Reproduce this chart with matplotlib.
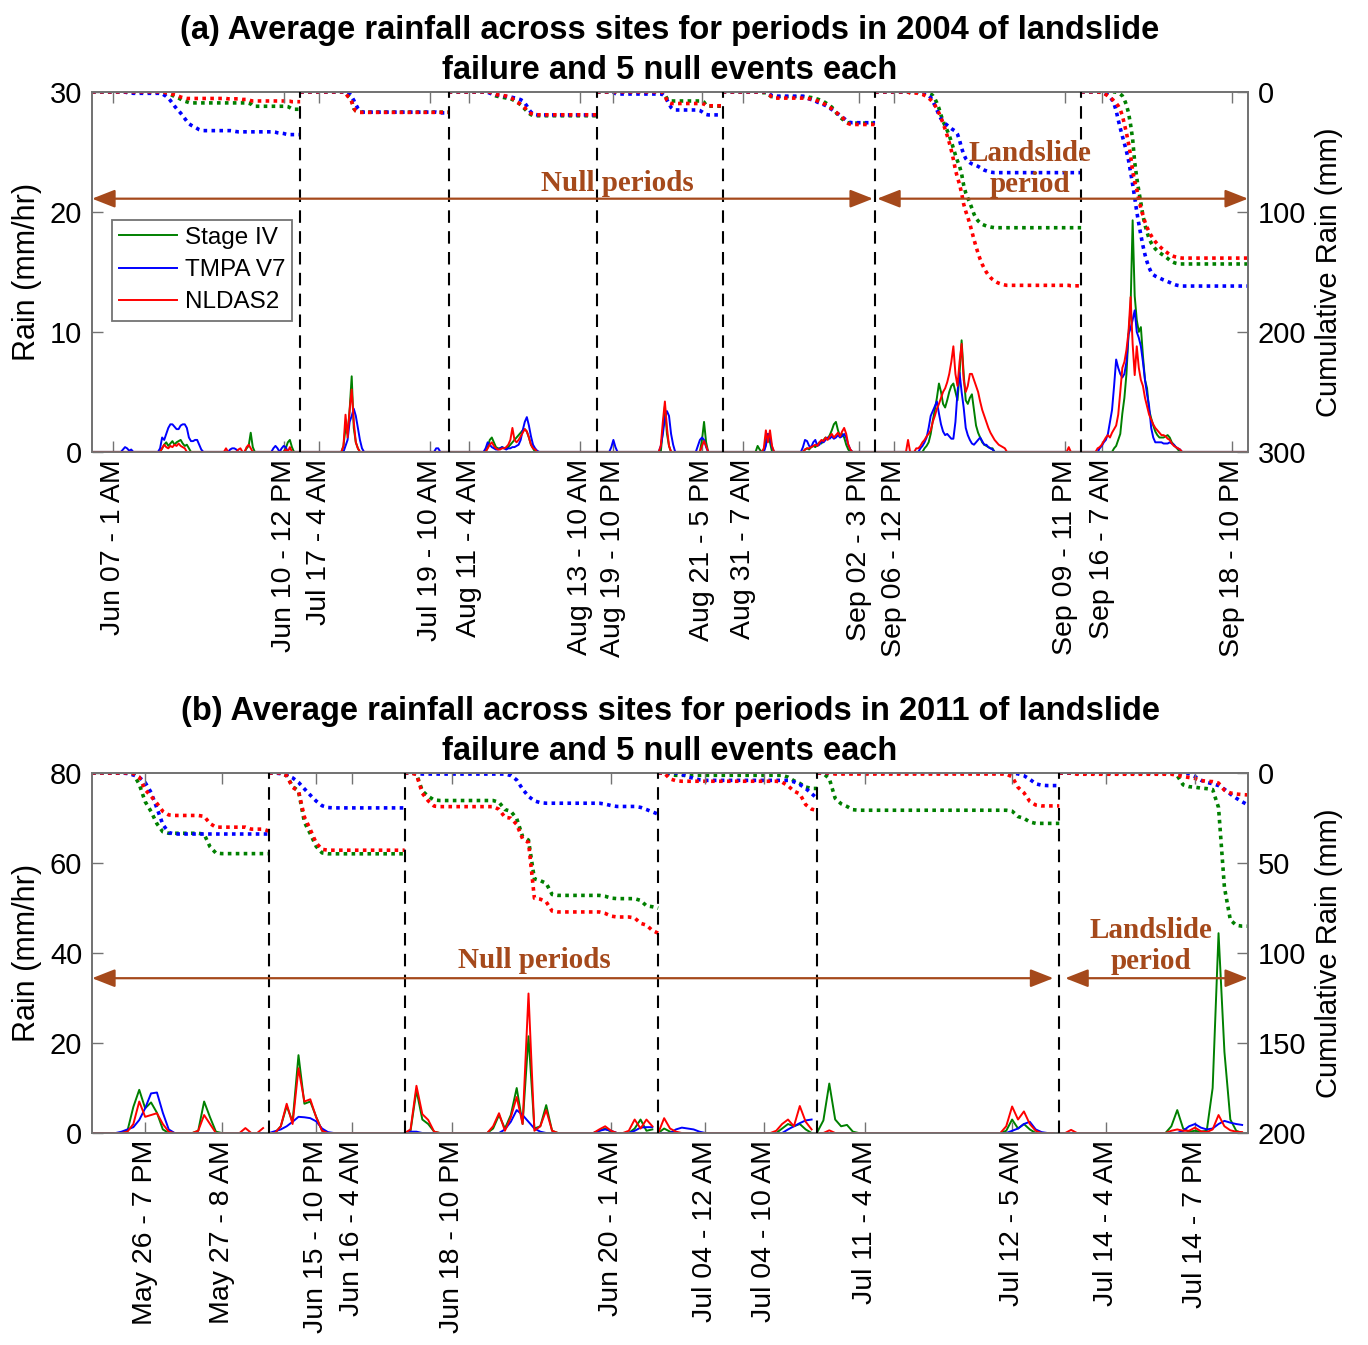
import matplotlib
matplotlib.use("Agg")
import matplotlib.pyplot as plt
import numpy as np

plt.rcParams["font.family"] = ["Liberation Sans", "DejaVu Sans"]

# ---------------- panel (a): 2004 ----------------
# hours in each plotted window (5 null periods, then 2 landslide windows)
A_SEG_HOURS = [101, 72, 72, 61, 74, 100, 81]
A_N_NULL = 5
A_TICK_HOURS = [10, 93, 110, 164, 183, 237, 253, 296, 316, 372, 389, 472, 490, 553]
A_TICK_LABELS = ["Jun 07 - 1 AM", "Jun 10 - 12 PM", "Jul 17 - 4 AM", "Jul 19 - 10 AM",
                 "Aug 11 - 4 AM", "Aug 13 - 10 AM", "Aug 19 - 10 PM", "Aug 21 - 5 PM",
                 "Aug 31 - 7 AM", "Sep 02 - 3 PM", "Sep 06 - 12 PM", "Sep 09 - 11 PM",
                 "Sep 16 - 7 AM", "Sep 18 - 10 PM"]

# hourly rain (mm/hr) as (first hour, values) bursts; other hours are dry
A_STAGE4 = [
    (34, [0.3, 0.6, 0.8, 0.5, 0.7, 0.9, 0.6, 0.8, 0.9, 1.0, 0.7, 0.5, 0.6, 0.3]),
    (75, [0.3, 0.5, 1.6, 0.4]),
    (94, [0.3, 0.8, 1.0, 0.4]),
    (122, [0.5, 2.0, 1.5, 3.5, 6.3, 2.0, 0.8, 0.3]),
    (192, [0.4, 1.0, 1.2, 0.8, 0.4, 0.3, 0.3, 0.4, 0.3, 0.3, 0.4, 0.6, 0.8, 1.0, 1.2, 1.4,
           1.6, 1.8, 1.9, 1.7, 1.2, 0.6, 0.3]),
    (277, [1.8, 3.8, 1.5, 0.5]),
    (296, [1.0, 2.5, 0.8]),
    (323, [0.5, 0.2, 0.0, 0.0, 1.0, 1.5, 0.8]),
    (346, [0.2, 0.3, 0.2, 0.4, 0.5, 0.4, 0.6, 0.8, 0.7, 1.0, 1.2, 1.1, 1.4, 1.8, 2.3, 2.5,
           1.8, 1.3, 1.5, 1.2, 0.6, 0.2]),
    (404, [0.3, 0.5, 0.8, 1.5, 2.6, 3.5, 4.5, 5.7, 5.0, 4.0, 3.7, 4.3, 5.0, 5.5, 5.7, 5.0,
           4.3, 6.5, 9.3, 6.5, 4.3, 4.0, 4.5, 4.8, 3.5, 2.2, 1.6, 1.2, 0.8, 0.6, 0.5, 0.4,
           0.3, 0.3]),
    (496, [0.3, 0.5, 1.0, 1.5, 3.2, 4.5, 6.5, 9.8, 12.0, 19.3, 13.0, 11.0, 10.0, 10.4, 8.0,
           6.0, 5.3, 3.5, 2.8, 2.2, 1.7, 1.4, 1.2, 1.2, 1.2, 1.3, 1.4, 1.2, 0.8, 0.6, 0.4,
           0.2]),
]
A_TMPA = [
    (15, [0.2, 0.4, 0.3, 0.1, 0.2]),
    (33, [0.3, 1.2, 1.0, 1.5, 2.0, 2.3, 2.3, 2.1, 1.9, 1.9, 2.2, 2.3, 2.3, 2.0, 1.2, 0.9,
          0.9, 1.0, 1.0, 0.6, 0.2]),
    (67, [0.2, 0.3, 0.3, 0.2]),
    (88, [0.3, 0.5, 0.3, 0.0, 0.3, 0.5, 0.4]),
    (123, [0.5, 1.0, 2.5, 3.0, 3.6, 3.0, 2.0, 1.0, 0.3]),
    (167, [0.3, 0.3]),
    (191, [0.3, 0.8, 0.6, 0.4, 0.3, 0.2, 0.2, 0.3, 0.4, 0.3, 0.2, 0.3, 0.3, 0.4, 0.4, 0.5,
           0.6, 1.0, 1.8, 2.5, 2.9, 2.2, 1.3, 0.6, 0.3, 0.1]),
    (252, [0.4, 1.0, 0.4]),
    (276, [0.5, 1.5, 2.8, 3.4, 3.0, 1.5, 0.6]),
    (294, [0.5, 1.0, 1.2, 1.0, 0.4]),
    (327, [0.5, 1.5, 1.2, 0.4]),
    (345, [0.4, 1.0, 0.9, 0.5, 0.4, 0.8, 1.0, 0.5, 0.6, 0.9, 0.8, 1.0, 1.2, 1.1, 1.3, 1.1,
           1.2, 1.4, 1.2, 1.3, 1.5, 1.2, 0.6, 0.2]),
    (402, [0.3, 0.5, 0.8, 1.2, 2.0, 3.0, 3.4, 3.8, 4.2, 3.2, 2.3, 1.7, 1.4, 1.5, 1.3, 1.1,
           1.1, 2.5, 5.0, 6.6, 5.0, 3.7, 2.0, 1.4, 1.0, 0.7, 0.6, 0.8, 1.0, 1.2, 0.9, 0.6,
           0.6, 0.4, 0.3, 0.2]),
    (489, [0.3, 0.5, 0.8, 1.0, 1.5, 2.5, 3.5, 5.5, 7.7, 7.0, 6.5, 6.2, 6.5, 7.5, 9.8, 10.3,
           11.0, 11.8, 10.0, 9.5, 8.8, 7.5, 6.0, 4.8, 3.8, 2.0, 1.2, 0.8, 0.8, 0.8, 0.8, 0.7,
           0.7, 0.7, 0.8, 0.7, 0.6, 0.4, 0.3, 0.2]),
]
A_NLDAS = [
    (34, [0.3, 0.6, 0.4, 0.3, 0.5, 0.4, 0.6, 0.5, 0.7, 0.5, 0.4, 0.3]),
    (65, [0.3]),
    (71, [0.2, 0.3, 0.0, 0.0, 0.4, 0.6, 0.3]),
    (94, [0.2, 0.0, 0.4]),
    (122, [0.5, 3.1, 1.2, 3.5, 5.2, 2.5, 0.8, 0.3]),
    (192, [0.3, 0.6, 0.8, 0.5, 0.3, 0.2, 0.2, 0.3, 0.3, 0.4, 0.6, 1.0, 2.0, 1.0, 0.8, 1.0,
           1.3, 1.6, 1.9, 1.7, 1.2, 0.6, 0.3, 0.2]),
    (276, [0.5, 2.5, 4.2, 2.0, 0.5]),
    (296, [0.5, 0.9, 0.5]),
    (326, [0.3, 1.8, 0.8, 1.8, 0.5]),
    (346, [0.2, 0.3, 0.3, 0.4, 0.5, 0.6, 0.5, 0.8, 1.0, 0.9, 1.2, 1.0, 1.3, 1.5, 1.2, 1.4,
           1.6, 1.3, 1.7, 2.0, 1.5, 0.6, 0.2]),
    (396, [1.0]),
    (400, [0.3, 0.3, 0.5, 0.8, 1.0, 1.3, 1.5, 1.8, 2.5, 3.0, 3.6, 4.0, 4.5, 5.0, 5.3, 5.8,
           6.5, 7.5, 8.8, 6.5, 5.5, 7.5, 9.0, 6.0, 5.0, 5.5, 6.5, 6.5, 6.0, 5.5, 5.0, 4.2,
           3.5, 3.0, 2.5, 2.0, 1.6, 1.3, 1.0, 0.8, 0.6, 0.5, 0.4, 0.3]),
    (474, [0.4]),
    (488, [0.3, 0.4, 0.6, 0.9, 1.2, 1.4, 1.2, 1.6, 1.9, 2.2, 3.1, 5.0, 7.0, 7.5, 8.5, 10.0,
           12.9, 9.0, 6.4, 8.8, 7.0, 6.0, 5.5, 4.5, 3.8, 3.1, 2.7, 2.3, 2.0, 1.8, 1.6, 1.4,
           1.4, 1.3, 1.1, 1.0, 0.7, 0.5, 0.4, 0.3, 0.2]),
]

# ---------------- panel (b): 2011 ----------------
B_SEG_HOURS = [30, 23, 43, 27, 41, 32]
B_N_NULL = 5
B_TICK_HOURS = [9, 22, 38, 44, 61, 88, 104, 114, 131, 156, 172, 187]
B_TICK_LABELS = ["May 26 - 7 PM", "May 27 - 8 AM", "Jun 15 - 10 PM", "Jun 16 - 4 AM",
                 "Jun 18 - 10 PM", "Jun 20 - 1 AM", "Jul 04 - 12 AM", "Jul 04 - 10 AM",
                 "Jul 11 - 4 AM", "Jul 12 - 5 AM", "Jul 14 - 4 AM", "Jul 14 - 7 PM"]

B_STAGE4 = [
    (6, [0.5, 5.8, 9.6, 5.5, 6.8, 4.5, 0.8]),
    (18, [0.5, 7.0, 3.5, 0.3]),
    (32, [1.5, 6.0, 2.5, 17.3, 6.5, 7.0, 3.6, 0.5]),
    (54, [0.5, 9.5, 3.0, 2.0, 0.3]),
    (68, [1.0, 4.0, 1.0, 4.0, 10.0, 2.0, 21.5, 1.0, 1.5, 6.2, 0.5]),
    (86, [0.5, 1.0, 0.3]),
    (92, [1.0, 3.0, 0.5, 0.8]),
    (97, [1.0, 0.3]),
    (117, [1.0, 2.0, 1.5, 2.0, 0.8]),
    (123, [0.3, 2.8, 11.0, 3.0, 1.5, 1.8, 0.3]),
    (155, [0.5, 3.0, 1.0, 2.0, 0.8]),
    (183, [1.5, 5.1, 1.0, 0.3, 0.5, 0.3, 0.5, 10.0, 44.4, 18.0, 3.0, 0.5]),
]
B_TMPA = [
    (5, [0.3, 0.8, 1.3, 2.9, 5.5, 8.8, 9.0, 4.5, 0.8]),
    (31, [0.4, 0.8, 1.5, 2.5, 3.6, 3.5, 3.3, 2.6, 1.0, 0.2]),
    (54, [0.3, 0.3]),
    (70, [0.8, 2.5, 5.1, 4.0, 2.5, 1.0, 0.3]),
    (86, [0.5, 0.8, 0.5]),
    (92, [0.5, 1.2, 1.3, 1.3]),
    (99, [0.8, 1.2, 1.0, 0.8, 0.3]),
    (118, [0.8, 1.5, 2.2, 2.8, 3.0]),
    (156, [0.5, 1.0, 2.0, 2.5, 0.8, 0.2]),
    (185, [0.5, 1.5, 2.0, 1.2, 0.8, 1.0, 2.0, 2.7, 2.3, 2.0, 1.8]),
]
B_NLDAS = [
    (6, [0.3, 2.0, 7.0, 3.6, 4.0, 4.4, 2.0, 0.3]),
    (18, [0.5, 4.0, 2.0]),
    (26, [1.1]),
    (29, [1.1]),
    (32, [1.5, 6.5, 2.0, 14.4, 7.0, 7.5, 3.5, 0.5]),
    (54, [0.8, 10.5, 4.2, 2.9, 0.3]),
    (68, [1.5, 4.4, 0.5, 3.5, 8.0, 2.0, 31.0, 0.5, 1.5, 5.1, 0.5]),
    (86, [0.8, 1.5, 0.5]),
    (91, [0.5, 3.0, 1.0, 3.0, 1.5]),
    (97, [3.3, 1.0, 0.3]),
    (116, [0.5, 2.0, 3.0, 1.5, 6.0, 2.5, 0.8]),
    (125, [0.6]),
    (155, [1.5, 5.9, 3.0, 4.8, 2.0, 0.5]),
    (166, [0.7]),
    (183, [0.5, 0.8, 0.5, 0.5, 1.2, 0.4, 0.2, 0.8, 4.0, 1.5, 0.6, 0.3, 0.2]),
]

PRODUCTS = ["Stage IV", "TMPA V7", "NLDAS2"]
COLORS = ["#008000", "#0000ff", "#ff0000"]
BROWN = "#a5491b"
SPINE = "0.45"


def hourly_series(bursts, n_hours):
    """Expand (start, values) bursts to a full hourly array."""
    rain = np.zeros(n_hours)
    for start, values in bursts:
        rain[start:start + len(values)] = values
    return rain


def draw_panel(rect, seg_hours, n_null, tick_hours, tick_labels, series,
               rain_top, rain_ticks, cum_top, cum_ticks, title,
               arrow_y, null_xy, slide_xy, legend=False):
    ax = fig.add_axes(rect)
    ax2 = ax.twinx()
    ax.set_zorder(ax2.get_zorder() + 1)
    ax.patch.set_visible(False)

    edges = np.concatenate([[0], np.cumsum(seg_hours)])
    total = edges[-1]

    handles = []
    for bursts, color, name in zip(series, COLORS, PRODUCTS):
        rain = hourly_series(bursts, total)
        for s0, s1 in zip(edges[:-1], edges[1:]):
            seg = rain[s0:s1]
            line, = ax.plot(np.arange(s0, s1), seg, color=color, lw=1.4)
            cum = np.concatenate([[0], np.cumsum(seg)])
            ax2.plot(np.arange(s0, s1 + 1), cum, color=color, lw=2.6,
                     ls=(0, (1, 1.2)))
        handles.append(line)

    for b in edges[1:-1]:
        ax.axvline(b, color="k", lw=1.5, ls=(0, (6, 4)), zorder=3)

    ax.set_xlim(0, total)
    ax.set_ylim(0, rain_top)
    ax.set_yticks(rain_ticks)
    ax2.set_ylim(cum_top, 0)
    ax2.set_yticks(cum_ticks)
    ax.set_xticks(tick_hours)
    ax.set_xticklabels(tick_labels, rotation=90)

    ax.tick_params(axis="both", direction="in", length=8, width=1, color=SPINE,
                   labelsize=21, top=True, right=False, pad=7)
    ax.tick_params(axis="x", labelsize=20.5, pad=5)
    ax2.tick_params(axis="y", direction="in", length=8, width=1, color=SPINE,
                    labelsize=21, pad=7)
    for a in (ax, ax2):
        for sp in a.spines.values():
            sp.set_color(SPINE)
            sp.set_linewidth(1.3)

    ax.set_ylabel("Rain (mm/hr)", fontsize=22, labelpad=6)
    ax2.set_ylabel("Cumulative Rain (mm)", fontsize=21, labelpad=6)
    ax.set_title(title, fontsize=23.5, fontweight="bold", linespacing=1.4, pad=9)

    # null / landslide spans
    arrow = dict(arrowstyle="<|-|>,head_length=1.4,head_width=0.55", color=BROWN,
                 lw=1.6, shrinkA=0, shrinkB=0)
    split = edges[n_null]
    ax.annotate("", xy=(split - 1, arrow_y), xytext=(0, arrow_y), arrowprops=arrow)
    ax.annotate("", xy=(total, arrow_y), xytext=(split + 1, arrow_y), arrowprops=arrow)
    txt = dict(ha="center", va="center", fontsize=21, fontweight="bold",
               family="Liberation Serif", color=BROWN, linespacing=1.2, zorder=6)
    ax.text(null_xy[0], null_xy[1], "Null periods", **txt)
    ax.text(slide_xy[0], slide_xy[1], "Landslide\nperiod", **txt)

    if legend:
        leg = ax.legend(handles, PRODUCTS, loc="upper left", bbox_to_anchor=(0.017, 0.645),
                        fontsize=17.5, fancybox=False, edgecolor=SPINE, framealpha=1,
                        handlelength=2.4, handletextpad=0.3, borderpad=0.3,
                        labelspacing=0.42, borderaxespad=0)
        leg.get_frame().set_linewidth(1.3)
    return ax


fig = plt.figure(figsize=(13.68, 13.45), dpi=100)

draw_panel([0.0673, 0.664, 0.845, 0.2677], A_SEG_HOURS, A_N_NULL, A_TICK_HOURS,
           A_TICK_LABELS, [A_STAGE4, A_TMPA, A_NLDAS], 30, [0, 10, 20, 30],
           300, [0, 100, 200, 300],
           "(a) Average rainfall across sites for periods in 2004 of landslide\n"
           "failure and 5 null events each",
           21.1, (255, 22.4), (455, 23.6), legend=True)

draw_panel([0.0673, 0.1576, 0.845, 0.2677], B_SEG_HOURS, B_N_NULL, B_TICK_HOURS,
           B_TICK_LABELS, [B_STAGE4, B_TMPA, B_NLDAS], 80, [0, 20, 40, 60, 80],
           200, [0, 50, 100, 150, 200],
           "(b) Average rainfall across sites for periods in 2011 of landslide\n"
           "failure and 5 null events each",
           34.4, (75, 38.4), (179.5, 41.6))

fig.savefig("out.png", dpi=100, facecolor="white")
